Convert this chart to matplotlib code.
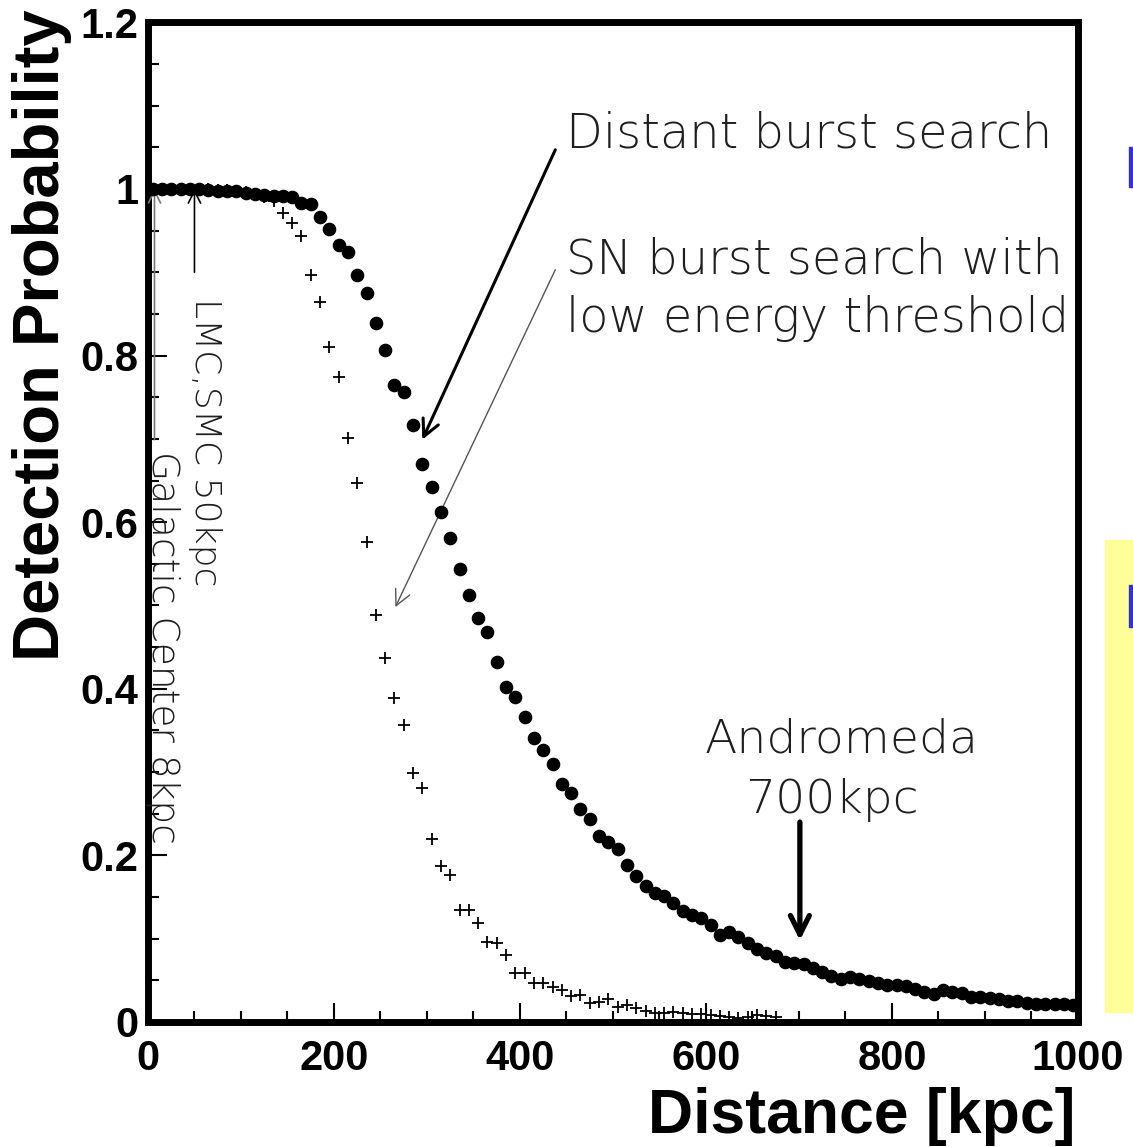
import matplotlib
matplotlib.use("Agg")
import matplotlib.pyplot as plt
from matplotlib.ticker import MultipleLocator
from matplotlib.patches import Rectangle
import numpy as np

# bin centres [kpc], 10 kpc bins
distance = np.arange(5, 1000, 10)

# detection probability, distant burst search (filled dots)
prob_distant = [
    1.000, 1.000, 1.000, 1.000, 1.000, 1.000, 0.999, 0.998, 0.998, 0.998,
    0.995, 0.994, 0.993, 0.992, 0.991, 0.990, 0.983, 0.982, 0.966, 0.952,
    0.933, 0.924, 0.897, 0.875, 0.839, 0.807, 0.765, 0.756, 0.717, 0.670,
    0.642, 0.612, 0.581, 0.544, 0.513, 0.485, 0.468, 0.432, 0.402, 0.390,
    0.366, 0.341, 0.327, 0.310, 0.286, 0.275, 0.256, 0.244, 0.223, 0.216,
    0.208, 0.188, 0.175, 0.163, 0.155, 0.151, 0.143, 0.133, 0.128, 0.125,
    0.116, 0.104, 0.108, 0.102, 0.095, 0.088, 0.083, 0.079, 0.072, 0.071,
    0.070, 0.065, 0.060, 0.055, 0.052, 0.054, 0.052, 0.049, 0.047, 0.044,
    0.044, 0.043, 0.040, 0.036, 0.034, 0.038, 0.036, 0.035, 0.030, 0.030,
    0.029, 0.028, 0.025, 0.025, 0.023, 0.022, 0.022, 0.022, 0.021, 0.020,
]

# SN burst search with low energy threshold (crosses), up to 680 kpc
prob_low_thr = [
    1.000, 1.000, 1.000, 1.000, 1.000, 1.000, 1.000, 0.999, 0.999, 0.998,
    0.996, 0.994, 0.990, 0.985, 0.971, 0.959, 0.944, 0.897, 0.864, 0.810,
    0.774, 0.701, 0.647, 0.576, 0.489, 0.437, 0.389, 0.357, 0.299, 0.281,
    0.220, 0.187, 0.176, 0.134, 0.134, 0.119, 0.096, 0.095, 0.080, 0.059,
    0.059, 0.047, 0.047, 0.042, 0.038, 0.031, 0.032, 0.023, 0.024, 0.028,
    0.018, 0.020, 0.017, 0.013, 0.011, 0.011, 0.012, 0.011, 0.010, 0.010,
    0.008, 0.007, 0.006, 0.005, 0.006, 0.008, 0.007, 0.006,
]

x_ticks = [0, 200, 400, 600, 800, 1000]
y_ticks = [0, 0.2, 0.4, 0.6, 0.8, 1.0, 1.2]
y_ticklabels = ["0", "0.2", "0.4", "0.6", "0.8", "1", "1.2"]

bold_font = "Liberation Sans"
thin_font = "DejaVu Sans"
note_color = "#1e1e1e"
note_kw = dict(family=thin_font, fontweight="light", color=note_color)

fig = plt.figure(figsize=(11.33, 11.47), dpi=100)
ax = fig.add_axes([0.1306, 0.1090, 0.8208, 0.8715])

ax.plot(distance[:len(prob_low_thr)], prob_low_thr, ls="none", marker="+",
        ms=9, mew=1.3, color="black", zorder=3)
ax.plot(distance, prob_distant, ls="none", marker="o",
        ms=8.8, color="black", zorder=4)

ax.set_xlim(0, 1000)
ax.set_ylim(0, 1.2)
ax.set_xticks(x_ticks)
ax.set_xticklabels([str(v) for v in x_ticks])
ax.set_yticks(y_ticks)
ax.set_yticklabels(y_ticklabels)
ax.xaxis.set_minor_locator(MultipleLocator(50))
ax.yaxis.set_minor_locator(MultipleLocator(0.05))
ax.tick_params(which="both", direction="in", top=False, right=False, width=1.5)
ax.tick_params(which="major", length=14)
ax.tick_params(which="minor", length=8)
ax.tick_params(axis="x", pad=12)
ax.tick_params(axis="y", pad=7)
for lab in ax.get_xticklabels() + ax.get_yticklabels():
    lab.set_fontfamily(bold_font)
    lab.set_fontweight("bold")
    lab.set_fontsize(30)
for sp in ax.spines.values():
    sp.set_linewidth(5)

fig.text(42 / 1133, 0.708, "Detection Probability", rotation=90,
         ha="center", va="center", fontsize=47, fontweight="bold",
         family=bold_font)
fig.text(1075 / 1133, 14 / 1147, "Distance [kpc]", ha="right",
         va="baseline", fontsize=45, fontweight="bold", family=bold_font)

# labels for the two searches
ax.text(450, 1.066, "Distant burst search", ha="left", va="center",
        fontsize=34.5, **note_kw)
ax.text(450, 0.915, "SN burst search with", ha="left", va="center",
        fontsize=34.5, **note_kw)
ax.text(450, 0.845, "low energy threshold", ha="left", va="center",
        fontsize=34.5, **note_kw)
ax.annotate("", xy=(295, 0.699), xytext=(438, 1.047),
            arrowprops=dict(arrowstyle="->", lw=2.2, color="black",
                            mutation_scale=30, shrinkA=0, shrinkB=0))
ax.annotate("", xy=(266, 0.498), xytext=(438, 0.903),
            arrowprops=dict(arrowstyle="->", lw=1.0, color="#555555",
                            mutation_scale=28, shrinkA=0, shrinkB=0))

# Andromeda
ax.text(746, 0.339, "Andromeda", ha="center", va="center",
        fontsize=34, **note_kw)
ax.text(735, 0.266, "700kpc", ha="center", va="center",
        fontsize=34, **note_kw)
ax.annotate("", xy=(701, 0.098), xytext=(701, 0.240),
            arrowprops=dict(arrowstyle="->", lw=3.8, color="black",
                            mutation_scale=34, shrinkA=0, shrinkB=0))

# nearby galaxies
ax.annotate("", xy=(50, 1.0), xytext=(50, 0.900),
            arrowprops=dict(arrowstyle="->", lw=1.2, color="black",
                            mutation_scale=22, shrinkA=0, shrinkB=0))
ax.text(61, 0.696, "LMC,SMC 50kpc", rotation=270, ha="center", va="center",
        fontsize=26, **note_kw)
ax.annotate("", xy=(7, 1.0), xytext=(7, 0.699),
            arrowprops=dict(arrowstyle="->", lw=1.2, color="#777777",
                            mutation_scale=22, shrinkA=0, shrinkB=0))
ax.text(16, 0.450, "Galactic Center 8kpc", rotation=270, ha="center",
        va="center", fontsize=27, **note_kw)

# slide edge: yellow box and blue bullets at the right border
fig.patches.append(Rectangle((1105 / 1133, 135 / 1147), 28 / 1133, 472 / 1147,
                             transform=fig.transFigure, color="#FFFF99",
                             zorder=0))
for top, bot in [(147, 187), (585, 627)]:
    fig.patches.append(Rectangle((1129 / 1133, (1147 - bot) / 1147),
                                 4 / 1133, (bot - top) / 1147,
                                 transform=fig.transFigure, color="#3333CC",
                                 zorder=1))

fig.savefig("out.png", dpi=100)
